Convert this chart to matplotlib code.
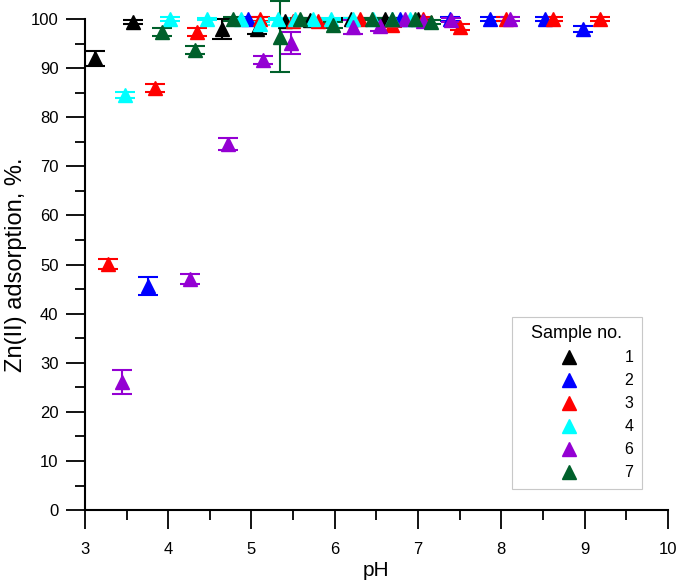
import matplotlib
matplotlib.use("Agg")
import matplotlib.pyplot as plt
from matplotlib.ticker import MultipleLocator

plt.rcParams['font.family'] = ['Liberation Sans', 'DejaVu Sans']

labels = ['1', '2', '3', '4', '6', '7']
colors = ['#000000', '#0000FF', '#FF0000', '#00FFFF', '#9400D3', '#00602B']

ph_1 = [3.12, 3.58, 4.65, 5.07, 5.40, 5.70, 6.20, 6.60, 7.00]
ads_1 = [92.0, 99.4, 98.0, 98.0, 99.5, 99.8, 100.0, 100.0, 100.0]
err_1 = [1.5, 0.5, 2.0, 1.0, 0.5, 0.5, 0.3, 0.3, 0.3]

ph_2 = [3.76, 4.96, 6.78, 7.38, 7.86, 8.52, 8.98]
ads_2 = [45.6, 100.0, 100.0, 100.0, 100.0, 100.0, 98.0]
err_2 = [1.8, 0.5, 0.3, 0.5, 0.5, 0.5, 0.6]

ph_3 = [3.28, 3.84, 4.34, 5.10, 5.50, 5.80, 6.30, 6.69, 7.06, 7.50, 8.06, 8.62, 9.18]
ads_3 = [50.1, 86.0, 97.4, 100.0, 99.5, 99.5, 100.0, 98.8, 100.0, 98.4, 100.0, 100.0, 100.0]
err_3 = [1.0, 0.8, 0.8, 0.5, 0.5, 0.5, 0.3, 0.5, 0.5, 0.6, 0.5, 0.5, 0.5]

ph_4 = [3.48, 4.02, 4.46, 4.88, 5.10, 5.32, 5.52, 5.74, 5.96, 6.22, 6.46, 6.69, 6.90]
ads_4 = [84.5, 100.0, 100.0, 100.0, 99.0, 100.0, 100.0, 100.0, 100.0, 100.0, 100.0, 100.0, 100.0]
err_4 = [0.6, 0.5, 0.3, 0.3, 0.3, 0.3, 0.3, 0.3, 0.3, 0.3, 0.3, 0.3, 0.3]

ph_6 = [3.45, 4.26, 4.72, 5.14, 5.48, 6.22, 6.54, 6.84, 7.06, 7.40, 8.10]
ads_6 = [26.1, 47.0, 74.5, 91.6, 95.1, 98.4, 98.6, 100.0, 99.5, 99.8, 100.0]
err_6 = [2.5, 1.0, 1.2, 0.8, 2.2, 1.4, 1.0, 0.3, 0.5, 0.5, 0.5]

ph_7 = [3.93, 4.32, 4.78, 5.34, 5.58, 5.98, 6.45, 6.69, 6.96, 7.16]
ads_7 = [97.4, 93.7, 100.0, 96.4, 100.0, 98.8, 100.0, 100.0, 100.0, 99.4]
err_7 = [0.8, 0.8, 0.5, 7.2, 0.3, 0.6, 0.3, 0.3, 0.3, 0.5]

series = [(ph_1, ads_1, err_1), (ph_2, ads_2, err_2), (ph_3, ads_3, err_3),
          (ph_4, ads_4, err_4), (ph_6, ads_6, err_6), (ph_7, ads_7, err_7)]

fig = plt.figure(figsize=(6.85, 5.85), dpi=100)
ax = fig.add_axes([0.124, 0.128, 0.851, 0.8395])

for (x, y, e), c, lab in zip(series, colors, labels):
    eb = ax.errorbar(x, y, yerr=e, fmt='^', color=c, ecolor=c, ms=10,
                     mec=c, capsize=7, elinewidth=1.5, capthick=1.5,
                     label=lab, clip_on=False)
    for art in eb.lines[1] + eb.lines[2]:
        art.set_clip_on(False)

ax.set_xlim(3, 10)
ax.set_ylim(0, 100)
ax.xaxis.set_major_locator(MultipleLocator(1))
ax.xaxis.set_minor_locator(MultipleLocator(0.5))
ax.yaxis.set_major_locator(MultipleLocator(10))
ax.yaxis.set_minor_locator(MultipleLocator(5))
for s in ['top', 'right']:
    ax.spines[s].set_visible(False)
for s in ['left', 'bottom']:
    ax.spines[s].set_linewidth(1.5)
ax.tick_params(which='major', direction='out', length=14, width=1.3, labelsize=12)
ax.tick_params(axis='y', which='major', pad=5)
ax.tick_params(axis='x', which='major', pad=9)
ax.tick_params(which='minor', direction='out', length=7, width=1.3)

ax.set_xlabel('pH', fontsize=15, labelpad=3)
ax.set_ylabel('Zn(II) adsorption, %.', fontsize=17, labelpad=3)

handles, labs = ax.get_legend_handles_labels()
handles = [h[0] for h in handles]
leg = ax.legend(handles, labs, title='Sample no.', loc='lower left',
                bbox_to_anchor=(0.732, 0.043), borderaxespad=0,
                fontsize=11.5, title_fontsize=13,
                frameon=True, fancybox=False, edgecolor='#c8c8c8', framealpha=1,
                handlelength=6.1, handletextpad=0.4, labelspacing=0.5,
                borderpad=0.55, numpoints=1)
leg.get_frame().set_linewidth(0.8)

fig.savefig('out.png', dpi=100)
